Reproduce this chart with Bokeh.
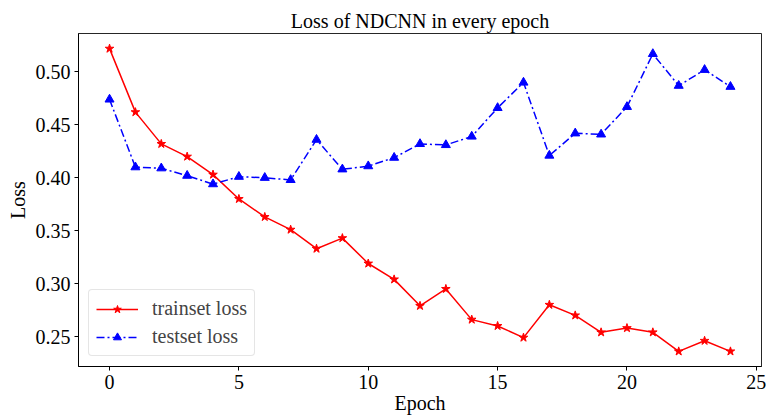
from bokeh.plotting import figure
from bokeh.models import Range1d, FixedTicker, PrintfTickFormatter, Legend, LegendItem
from bokeh.embed import file_html
from bokeh.resources import INLINE

epochs = list(range(25))
train_loss = [0.522, 0.462, 0.432, 0.420, 0.403, 0.380, 0.363, 0.351, 0.333, 0.343,
              0.319, 0.304, 0.279, 0.295, 0.266, 0.260, 0.249, 0.280, 0.270, 0.254,
              0.258, 0.254, 0.236, 0.246, 0.236]
test_loss = [0.474, 0.410, 0.409, 0.402, 0.394, 0.401, 0.400, 0.398, 0.436, 0.408,
             0.411, 0.419, 0.432, 0.431, 0.439, 0.466, 0.490, 0.421, 0.442, 0.441,
             0.467, 0.517, 0.487, 0.502, 0.486]
x_ticks = [0, 5, 10, 15, 20, 25]
y_ticks = [0.25, 0.30, 0.35, 0.40, 0.45, 0.50]

FONT = "Liberation Serif"

p = figure(width=766, height=417, output_backend="svg", toolbar_location=None,
           x_range=Range1d(-1.2, 25.2), y_range=Range1d(0.2217, 0.5363),
           min_border_left=78, min_border_right=5, min_border_top=33, min_border_bottom=51,
           title="Loss of NDCNN in every epoch")

p.title.text_font = FONT
p.title.text_font_size = "20px"
p.title.text_font_style = "normal"
p.title.align = "center"
p.title.standoff = 4
p.title.text_color = "black"

p.xgrid.visible = False
p.ygrid.visible = False
p.outline_line_color = "black"
p.outline_line_width = 1
p.outline_line_alpha = 0.85
p.background_fill_color = "white"
p.border_fill_color = "white"

r1 = p.line(epochs, train_loss, line_color="#ff0000", line_width=1.5)
m1 = p.scatter(epochs, train_loss, marker="star", size=9, fill_color="#ff0000", line_color="#ff0000")
r2 = p.line(epochs, test_loss, line_color="#0000ff", line_width=1.5, line_dash="8 3 2 3")
m2 = p.scatter(epochs, test_loss, marker="triangle", size=9, fill_color="#0000ff", line_color="#0000ff")

for ax in (p.xaxis[0], p.yaxis[0]):
    ax.major_label_text_font = FONT
    ax.major_label_text_font_size = "20px"
    ax.major_label_text_color = "black"
    ax.axis_label_text_font = FONT
    ax.axis_label_text_font_size = "20px"
    ax.axis_label_text_font_style = "normal"
    ax.axis_label_text_color = "black"
    ax.minor_tick_line_color = None
    ax.major_tick_in = 0
    ax.major_tick_out = 4
    ax.axis_line_color = "black"
    ax.major_tick_line_color = "black"

p.xaxis.ticker = FixedTicker(ticks=x_ticks)
p.yaxis.ticker = FixedTicker(ticks=y_ticks)
p.yaxis.formatter = PrintfTickFormatter(format="%.2f")
p.xaxis.axis_label = "Epoch"
p.yaxis.axis_label = "Loss"
p.xaxis.major_label_standoff = 4
p.yaxis.major_label_standoff = 4
p.xaxis.axis_label_standoff = 0
p.yaxis.axis_label_standoff = 4

legend = Legend(items=[LegendItem(label="trainset loss", renderers=[r1, m1]),
                       LegendItem(label="testset loss", renderers=[r2, m2])],
                location="bottom_left")
legend.label_text_font = FONT
legend.label_text_font_size = "20px"
legend.border_line_color = "#cccccc"
legend.border_line_width = 1
legend.border_radius = 4
legend.background_fill_alpha = 0.8
legend.glyph_width = 42
legend.label_standoff = 14
legend.spacing = 5
legend.padding = 7
legend.margin = 10
p.add_layout(legend)

open("out.html", "w").write(file_html(p, INLINE))
